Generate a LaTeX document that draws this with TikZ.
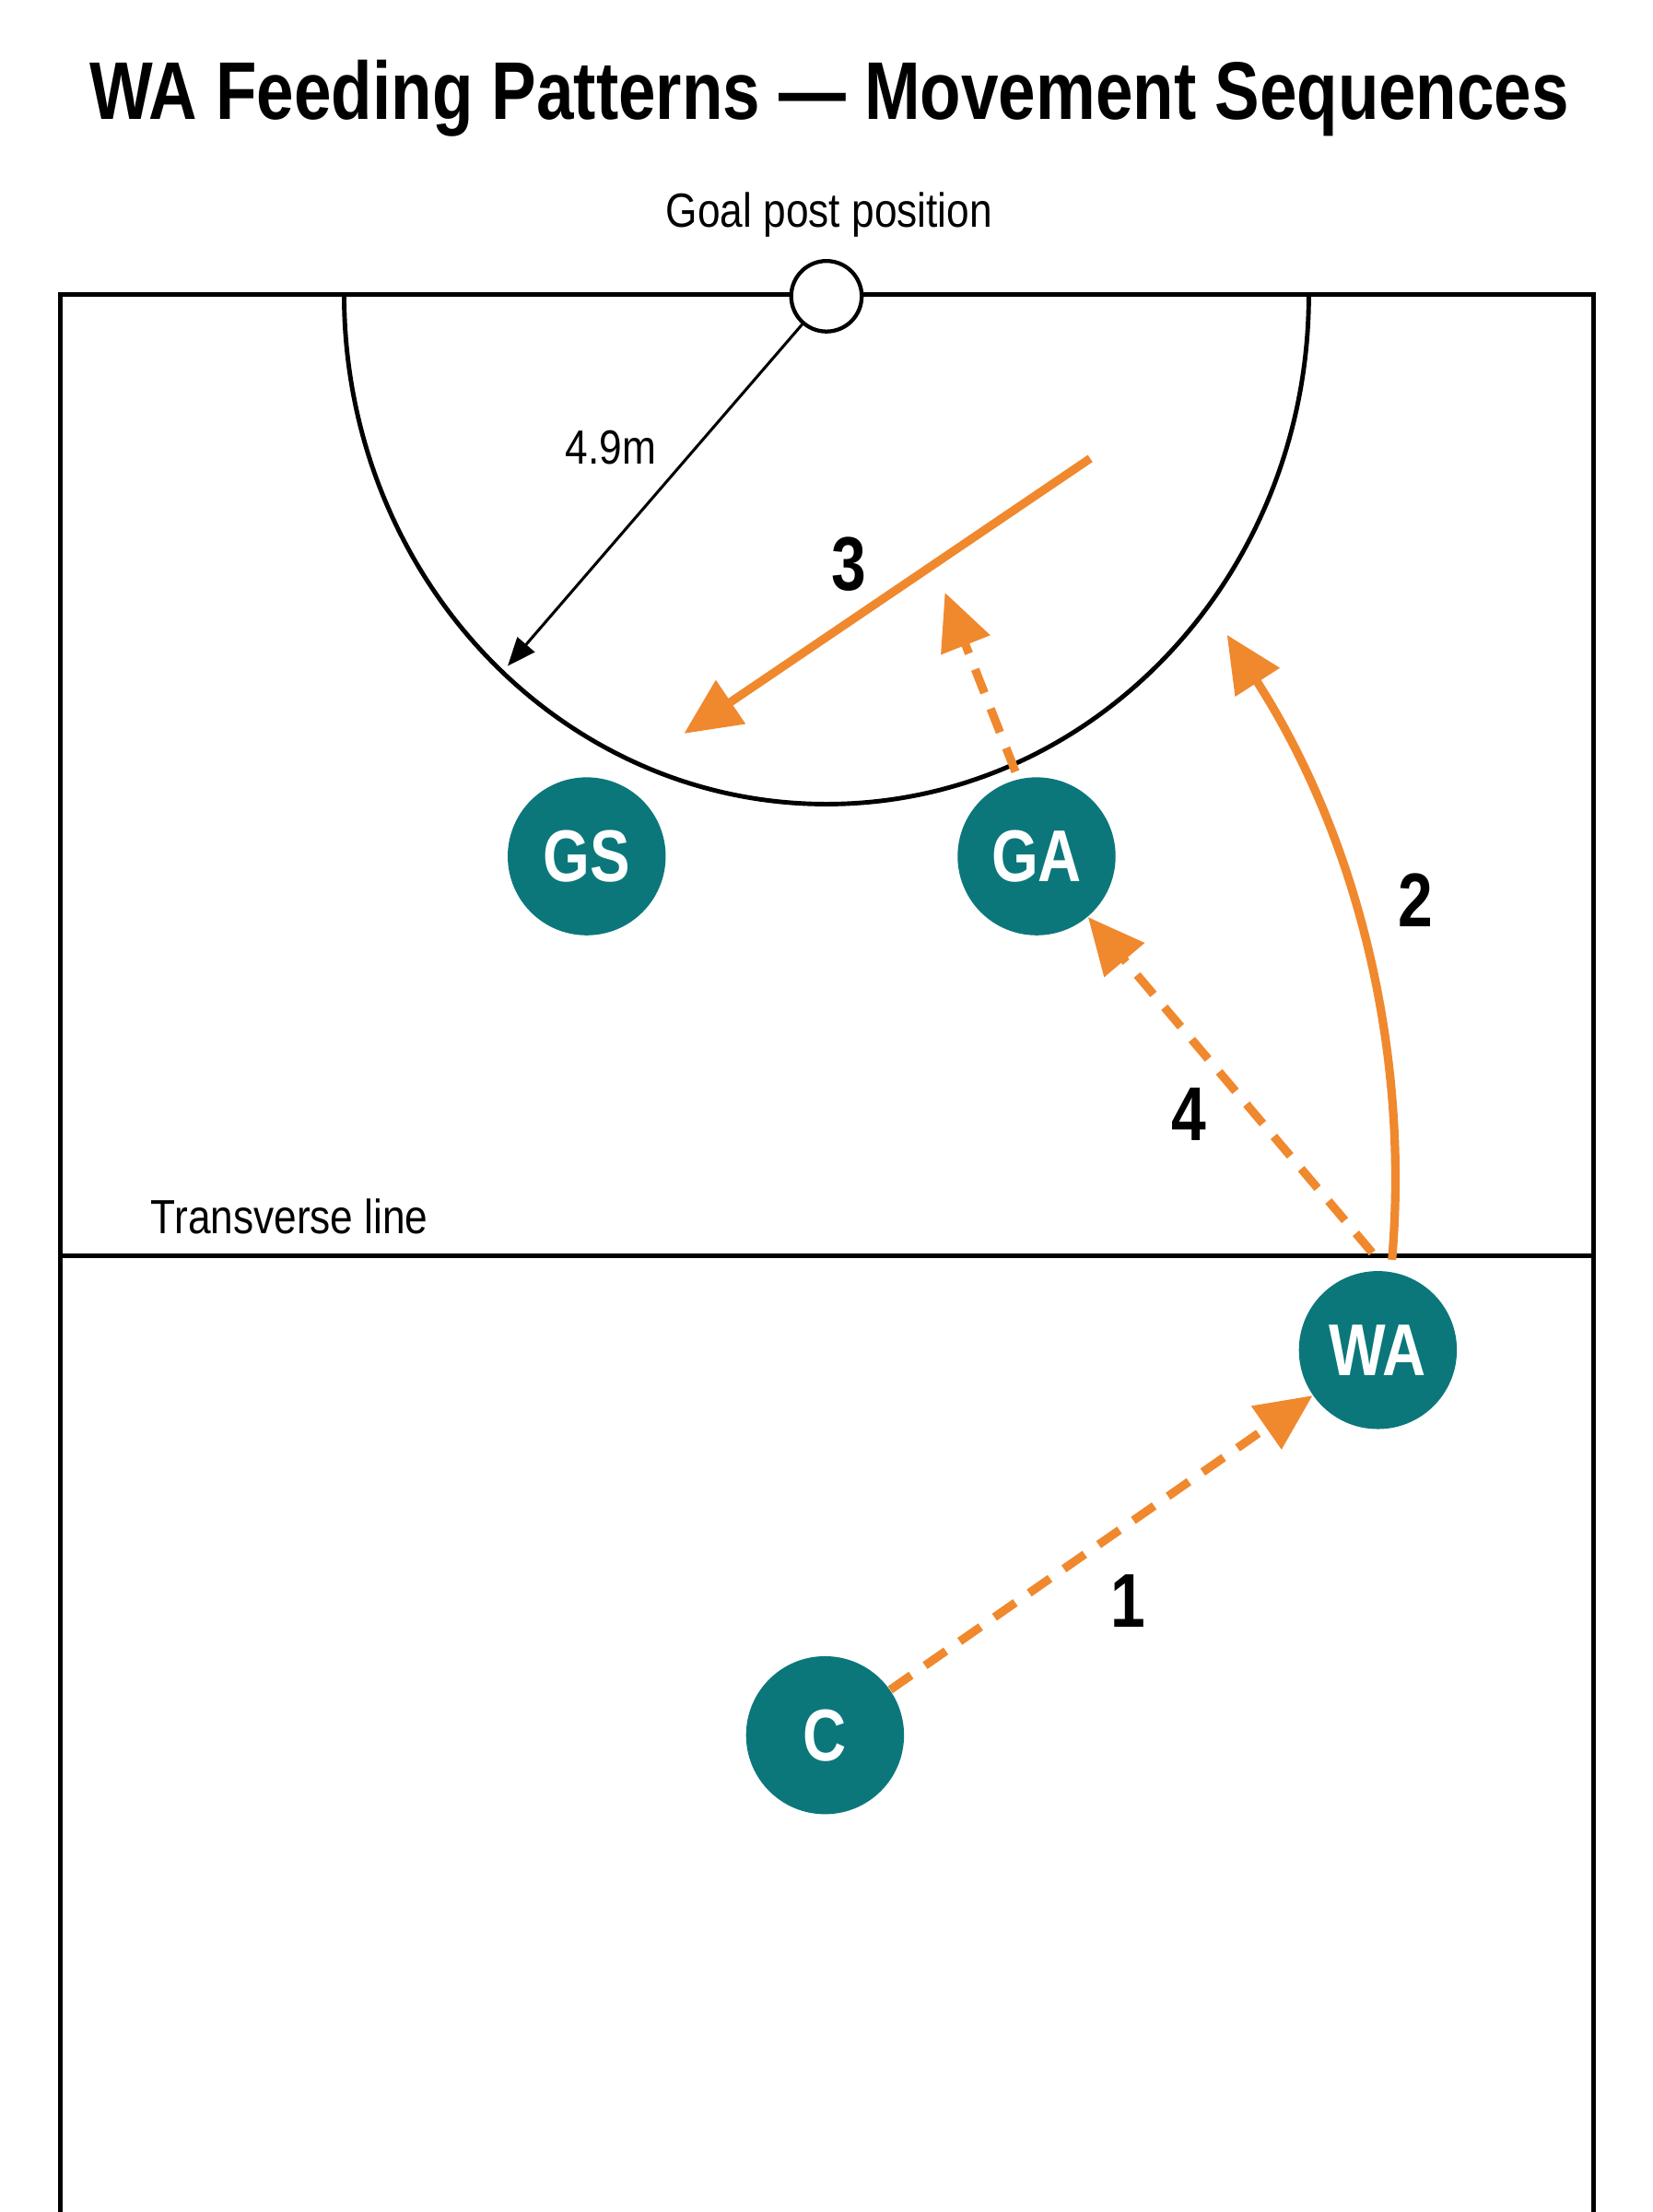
\documentclass[tikz,border=0pt]{standalone}
\usepackage{fontspec}
\setmainfont{Liberation Sans}
\newfontfamily\condb[FakeStretch=0.82]{Liberation Sans}
\newfontfamily\condr[FakeStretch=0.85]{Liberation Sans}
\usetikzlibrary{arrows.meta,shapes.geometric}
\definecolor{org}{HTML}{F0882E}
\definecolor{tealc}{HTML}{0B777B}
\begin{document}
\begin{tikzpicture}[x=0.5pt,y=-0.5pt,
  court/.style={line width=1.6pt,black},
  player/.style={circle,fill=tealc,minimum size=56pt,inner sep=0pt,text=white,font=\condb\bfseries\fontsize{26}{28}\selectfont},
  mv/.style={org,line width=3pt,-{Triangle[length=20pt,width=18pt]}},
  dsh/.style={mv,dash pattern=on 9pt off 6pt},
  num/.style={font=\condb\bfseries\fontsize{27}{30}\selectfont},
  lbl/.style={font=\condr\fontsize{17}{20}\selectfont}]
\useasboundingbox[fill=white] (0,0) rectangle (1172,1568);
\node[font=\condb\bfseries\fontsize{29}{32}\selectfont] (title) at (588,70) {WA Feeding Patterns — Movement Sequences};
\draw[court] (43,1572) -- (43,209) -- (1130,209) -- (1130,1572);
\draw[court] (43,890) -- (1130,890);
\draw[court] (244,209) arc[start angle=180,end angle=360,x radius=342,y radius=-361];
\node[circle,draw,line width=1.4pt,minimum size=25pt,inner sep=0pt,fill=white] (post) at (586,210) {};
\node[lbl] (postlbl) at (588,152) {Goal post position};
\coordinate (r1) at (360,472);
\draw[line width=1pt,-{Triangle[length=10pt,width=8pt]}] (post) -- (r1);
\node[lbl] (dim) at (433,317) {4.9m};
\node[lbl,anchor=west] (tl) at (100,862) {Transverse line};
\node[player] (GS) at (416,607) {GS};
\node[player] (GA) at (735,607) {GA};
\node[player] (WA) at (977,957) {WA};
\node[player] (C) at (585,1230) {C};
\draw[dsh] (C) -- (WA);
\node[num] at (800,1135) {1};
\coordinate (w2) at (987,893);
\coordinate (e2) at (870,450);
\draw[mv] (w2) .. controls (1000,740) and (960,590) .. (e2);
\node[num] at (1004,638) {2};
\coordinate (s3) at (773,325);
\coordinate (e3) at (485,520);
\draw[mv] (s3) -- (e3);
\node[num] at (602,400) {3};
\coordinate (w4) at (973,888);
\draw[dsh] (w4) -- (GA);
\node[num] at (843,790) {4};
\coordinate (ga5) at (720,547);
\coordinate (e5) at (670,420);
\draw[dsh] (ga5) -- (e5);
\end{tikzpicture}
\end{document}
